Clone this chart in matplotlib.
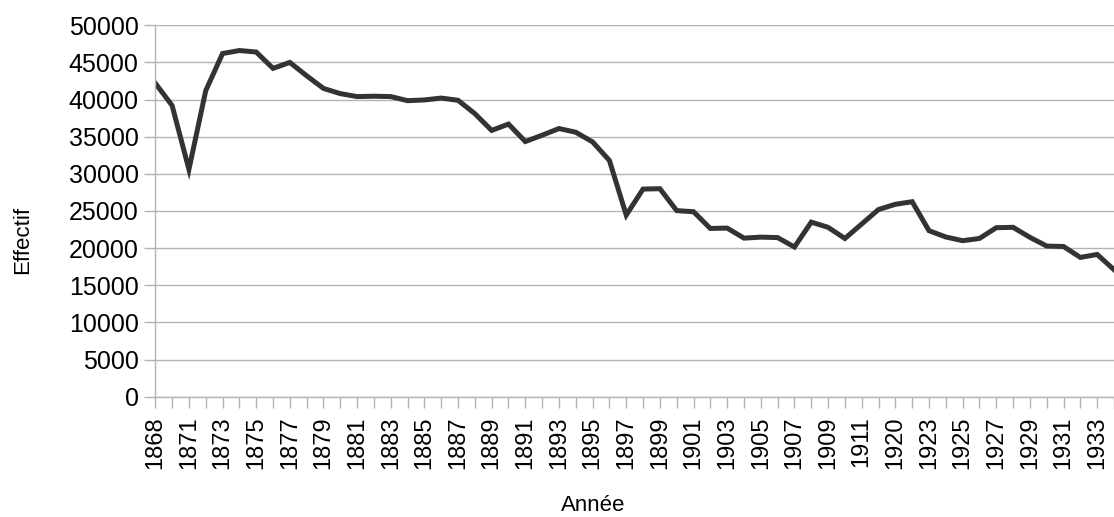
import matplotlib.pyplot as plt

plt.rcParams['font.family'] = ['Liberation Sans', 'DejaVu Sans']

# Années (axe de catégories, quelques années manquantes)
annees = [1868, 1869, 1871, 1872, 1873, 1874, 1875, 1876, 1877, 1878,
          1879, 1880, 1881, 1882, 1883, 1884, 1885, 1886, 1887, 1888,
          1889, 1890, 1891, 1892, 1893, 1894, 1895, 1896, 1897, 1898,
          1899, 1900, 1901, 1902, 1903, 1904, 1905, 1906, 1907, 1908,
          1909, 1910, 1911, 1912, 1920, 1921, 1923, 1924, 1925, 1926,
          1927, 1928, 1929, 1930, 1931, 1932, 1933, 1934]

effectif = [42200, 39200, 30600, 41200, 46200, 46600, 46400, 44200, 45000, 43200,
            41500, 40800, 40400, 40450, 40400, 39850, 39950, 40200, 39900, 38100,
            35850, 36700, 34350, 35200, 36100, 35600, 34300, 31800, 24450, 27950,
            28000, 25050, 24900, 22650, 22700, 21350, 21480, 21420, 20150, 23500,
            22800, 21300, 23250, 25200, 25900, 26250, 22350, 21500, 21000, 21300,
            22750, 22800, 21450, 20280, 20220, 18750, 19150, 17100]

positions = list(range(len(annees)))
etiquettes = [str(a) if i % 2 == 0 else '' for i, a in enumerate(annees)]

fig = plt.figure(figsize=(11.14, 5.17), dpi=100)
ax = fig.add_axes([0.1394, 0.2327, 0.8606, 0.7184])

ax.plot(positions, effectif, color='#333333', linewidth=3.6, solid_joinstyle='miter')

ax.set_xlim(0, 56.73)
ax.set_ylim(0, 50000)
ax.set_yticks(range(0, 50001, 5000))
ax.set_xticks(positions)
ax.set_xticklabels(etiquettes, rotation=90)

ax.grid(axis='y', color='#b3b3b3', linewidth=1)
ax.set_axisbelow(True)
for side in ['top', 'right']:
    ax.spines[side].set_visible(False)
for side in ['left', 'bottom']:
    ax.spines[side].set_color('#b3b3b3')
    ax.spines[side].set_linewidth(1)

ax.tick_params(axis='both', colors='#b3b3b3', length=8, width=1, labelcolor='black')
ax.tick_params(axis='y', pad=4, labelsize=18)
ax.tick_params(axis='x', pad=6, labelsize=17)

fig.text(0.532, 0.022, 'Année', ha='center', va='center', fontsize=16)
fig.text(0.020, 0.535, 'Effectif', ha='center', va='center', rotation=90, fontsize=16)

fig.savefig('out.png', dpi=100)
